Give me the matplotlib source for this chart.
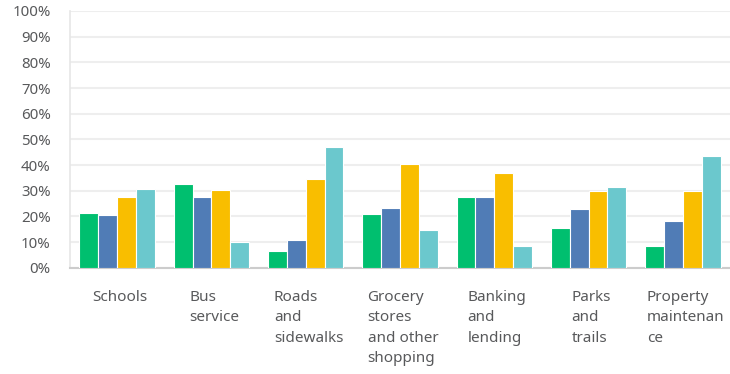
#!/usr/bin/env python3
# Grouped bar chart - share of responses per community service

import matplotlib
matplotlib.use("Agg")
import matplotlib.pyplot as plt
import matplotlib.transforms as mtransforms
import numpy as np

categories = ["Schools", "Bus\nservice", "Roads\nand\nsidewalks",
              "Grocery\nstores\nand other\nshopping", "Banking\nand\nlending",
              "Parks\nand\ntrails", "Property\nmaintenan\nce"]

series_1 = [21.2, 32.7, 6.6, 21.0, 27.4, 15.3, 8.3]
series_2 = [20.4, 27.4, 10.7, 23.4, 27.4, 22.7, 18.2]
series_3 = [27.4, 30.3, 34.4, 40.3, 36.8, 29.8, 29.8]
series_4 = [30.8, 10.0, 47.1, 14.7, 8.3, 31.4, 43.6]

colors = ["#00BF6F", "#507CB6", "#F9BE00", "#6BC8CD"]
yticks = list(range(0, 101, 10))


def draw():
    plt.rcParams["font.family"] = ["Noto Sans", "DejaVu Sans"]
    fig = plt.figure(figsize=(7.3, 3.74), dpi=100)
    ax = fig.add_axes([0.0959, 0.2842, 0.9041, 0.6864])

    x = np.arange(len(categories))
    width = 0.2
    all_series = [series_1, series_2, series_3, series_4]
    for i, (vals, col) in enumerate(zip(all_series, colors)):
        ax.bar(x + (i - 1.5) * width, vals, width, color=col,
               edgecolor="white", linewidth=0.8, zorder=3)

    ax.set_xlim(-0.5, 6.5)
    ax.set_ylim(0, 100)
    ax.set_yticks(yticks)
    ax.set_yticklabels(["{}%".format(t) for t in yticks])
    ax.yaxis.grid(True, color="#eeeeee", linewidth=1.5, zorder=0)
    ax.set_axisbelow(True)
    ax.tick_params(axis="y", length=0, pad=14, labelsize=10.8, labelcolor="#58595b")
    ax.set_xticks([])

    for side in ["top", "right"]:
        ax.spines[side].set_visible(False)
    ax.spines["left"].set_color("#e6e6e6")
    ax.spines["left"].set_linewidth(1.2)
    ax.spines["bottom"].set_color("#cccccc")
    ax.spines["bottom"].set_linewidth(1.5)

    # category labels: centred under each group, lines left-aligned
    trans = mtransforms.blended_transform_factory(ax.transData, ax.transAxes)
    for i, label in enumerate(categories):
        ax.text(x[i] + 0.03, -0.085, label, transform=trans,
                ha="center", va="top", multialignment="left",
                fontsize=11, color="#58595b", linespacing=1.5)

    fig.savefig("out.png", dpi=100)


if __name__ == "__main__":
    draw()
